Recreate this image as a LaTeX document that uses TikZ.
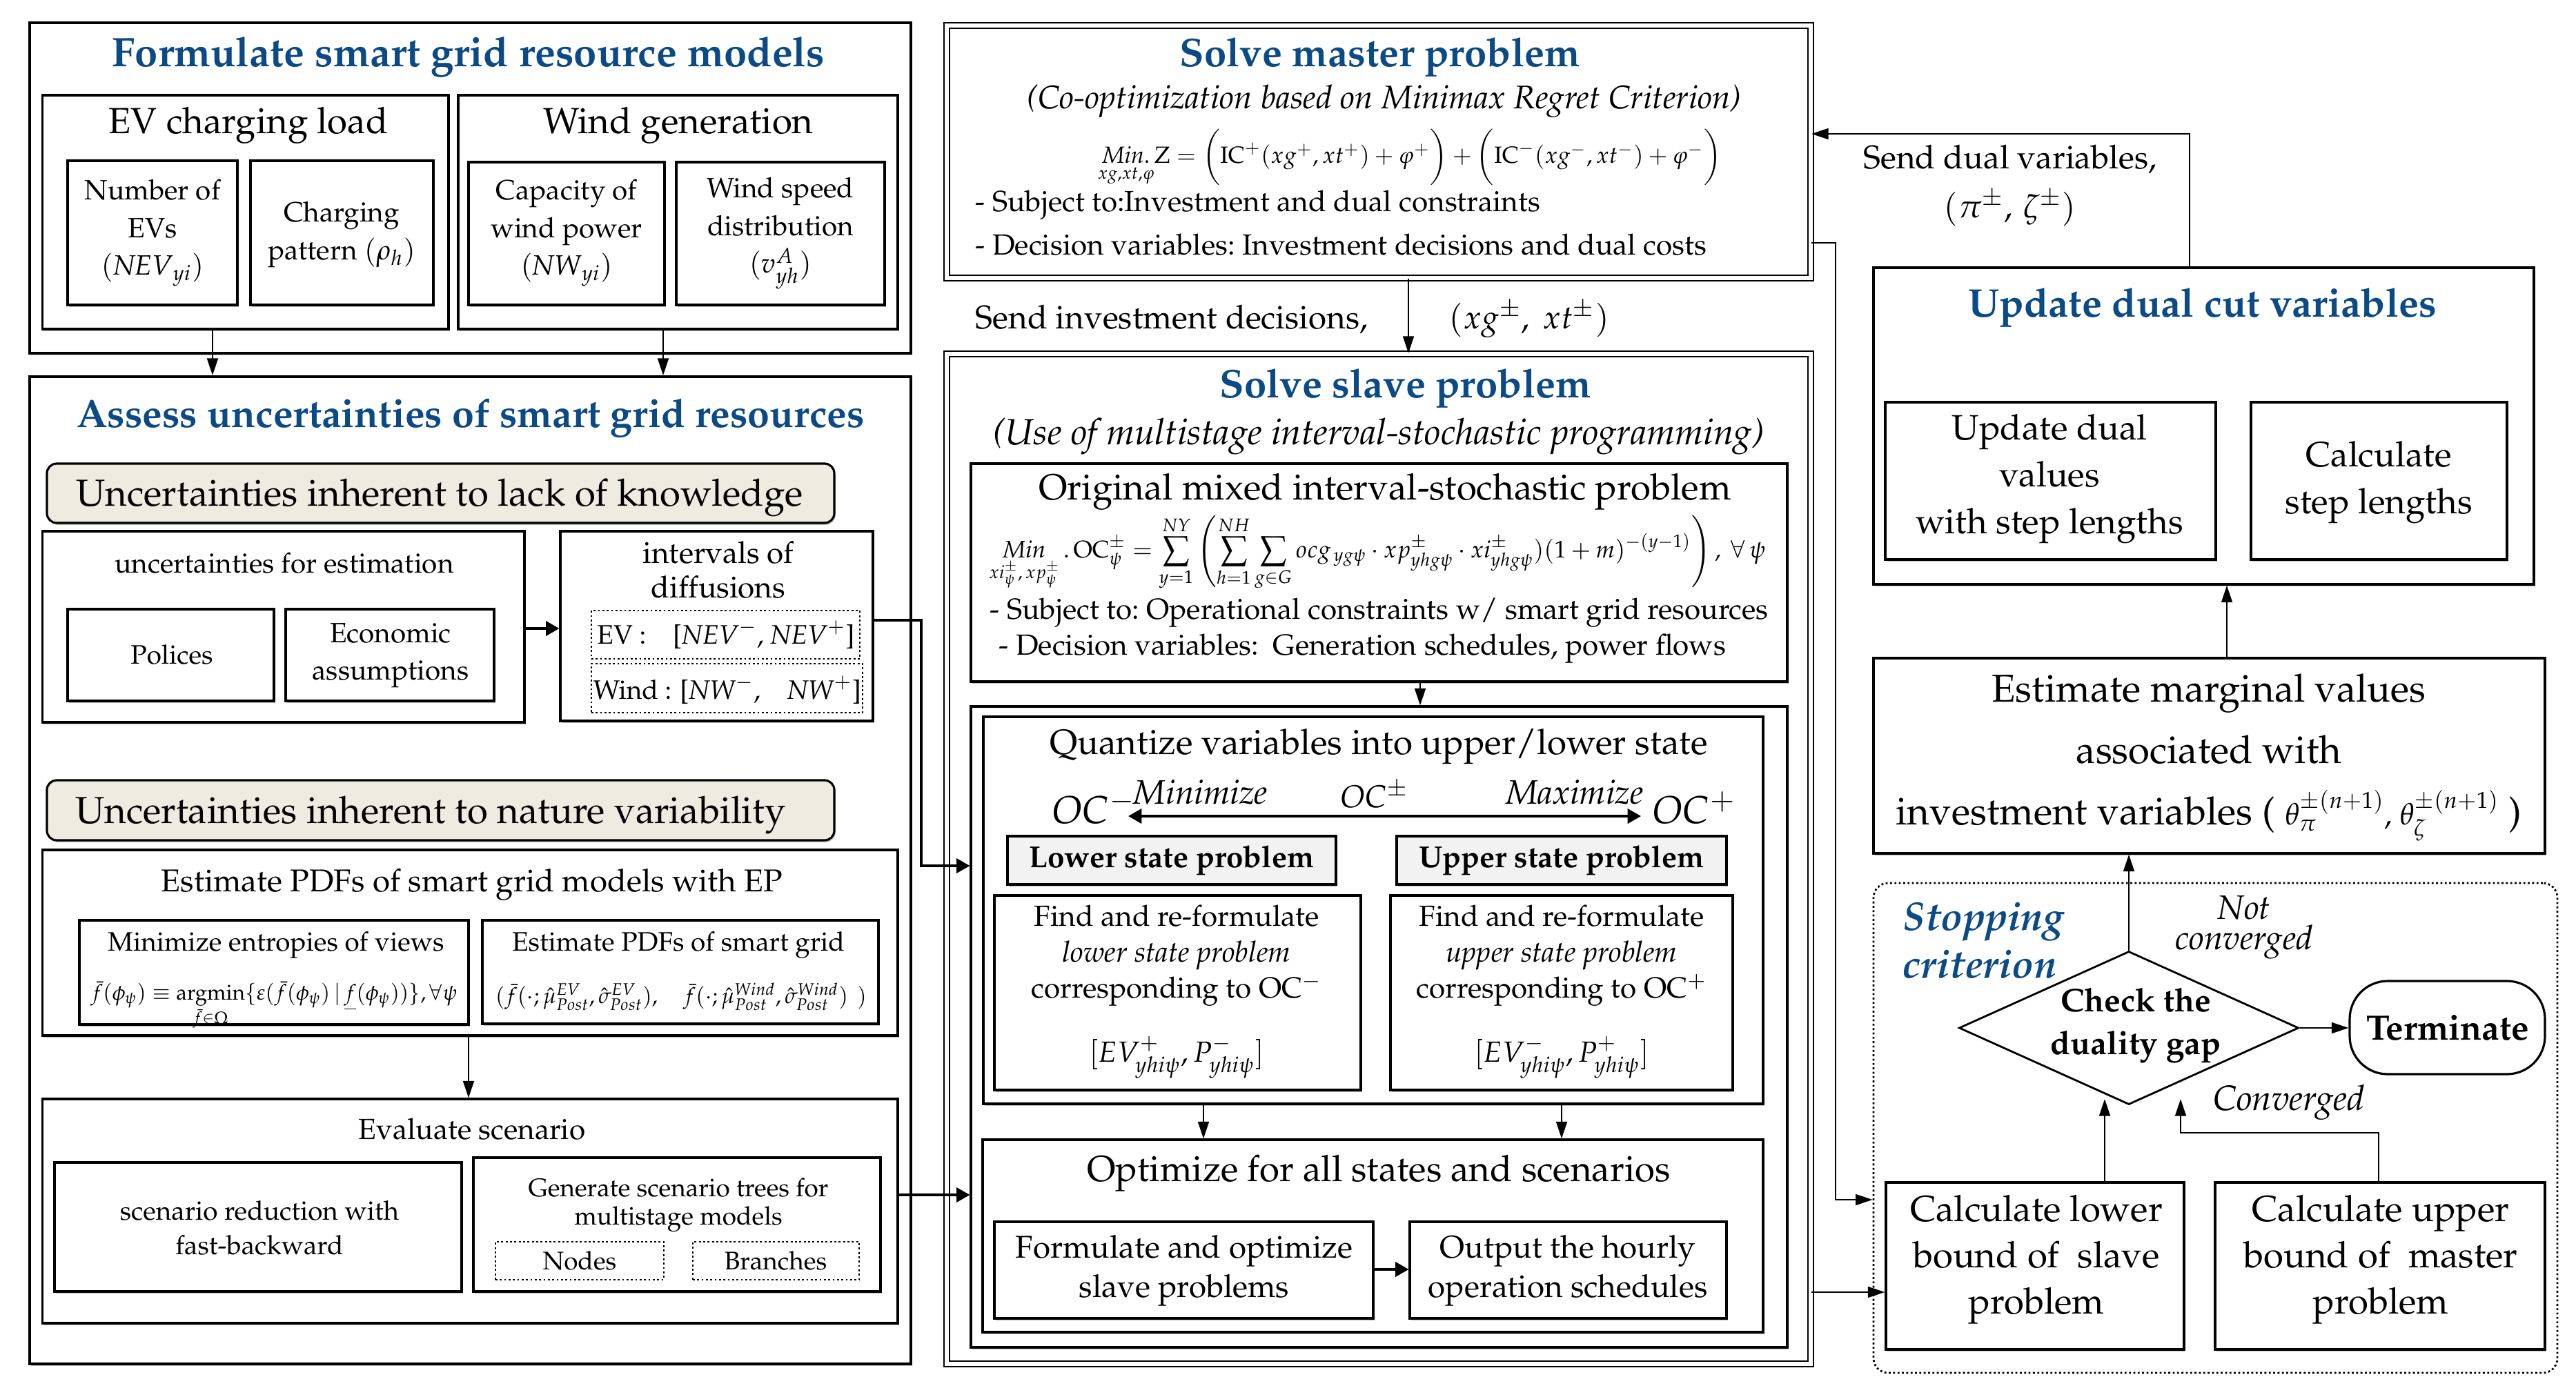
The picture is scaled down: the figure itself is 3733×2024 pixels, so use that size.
\documentclass[tikz,border=0pt]{standalone}
\usepackage[T1]{fontenc}
\usepackage{amsmath}
\usepackage{mathpazo}
\usetikzlibrary{arrows.meta,fit,shapes.geometric,calc,shadows}
\definecolor{tblue}{HTML}{0B4A85}
\definecolor{beige}{HTML}{EEECE1}
\definecolor{lgray}{HTML}{F2F2F2}
\newcommand{\fsz}[2]{\fontsize{#1}{#2}\selectfont}
\tikzset{
  x=0.01cm, y=-0.01cm,
  shd/.style={drop shadow={shadow xshift=0.5pt, shadow yshift=-0.8pt, fill=black!50, opacity=0.5}},
  bx/.style={draw, line width=0.9pt, inner sep=0pt, fill=white, shd},
  bbx/.style={draw, line width=1.1pt, inner sep=0pt, fill=white, shd},
  dbx/.style={draw, line width=0.6pt, double, double distance=1.6pt, inner sep=0pt},
  dotbx/.style={draw, densely dotted, line width=0.8pt, inner sep=0pt},
  tx/.style={inner sep=0pt, align=center},
  ttl/.style={tx, text=tblue},
  arr/.style={line width=0.7pt, -{Triangle[length=7pt,width=4.5pt]}},
  tarr/.style={line width=1.1pt, -{Triangle[length=5.5pt,width=6pt]}},
}
\begin{document}
\begin{tikzpicture}
\useasboundingbox (0,0) rectangle (3733,2024);

% ================= LEFT COLUMN =================
\node[bbx, fit={(43,33)(1320,512)}] (formB) {};
\node[bx, fit={(61.5,138)(650,477)}] (evB) {};
\node[bx, fit={(664,138)(1301,477)}] (wgB) {};
\node[bx, fit={(98,233)(344,442)}] (nevB) {};
\node[bx, fit={(363,233)(628,442)}] (chpB) {};
\node[bx, fit={(679,235)(963,442)}] (capB) {};
\node[bx, fit={(980,235)(1282,442)}] (wsdB) {};

\node[ttl, font=\fsz{17}{20}\bfseries] (formT) at (679,83) {Formulate smart grid resource models};
\node[tx, font=\fsz{15}{18}] (evT) at (360,182) {EV charging load};
\node[tx, font=\fsz{15}{18}] (wgT) at (983,182) {Wind generation};
\node[tx, font=\fsz{11.5}{15.5}] (nevT) at (221,338) {Number of\\EVs\\$(\mathit{NEV}_{yi})$};
\node[tx, font=\fsz{11.5}{15.5}] (chpT) at (495,340) {Charging\\pattern $(\rho_h)$};
\node[tx, font=\fsz{11.5}{15.5}] (capT) at (821,338) {Capacity of\\wind power\\$(\mathit{NW}_{yi})$};
\node[tx, font=\fsz{11.5}{15.5}] (wsdT) at (1131,338) {Wind speed\\distribution\\$(v^{A}_{yh})$};

\node[bbx, fit={(43,546)(1320,1977)}] (assB) {};
\node[ttl, font=\fsz{16.3}{19}\bfseries] (assT) at (682,606) {Assess uncertainties of smart grid resources};

\node[bx, fill=beige, rounded corners=4pt, fit={(68,672)(1209,758)}] (lk1B) {};
\node[tx, font=\fsz{15.5}{18}] (lk1T) at (637,721) {Uncertainties inherent to lack of knowledge};

\node[bx, fit={(61.5,770)(760,1047)}] (uestB) {};
\node[bx, fit={(98,883)(397,1016)}] (polB) {};
\node[bx, fit={(414,883)(716,1016)}] (ecoB) {};
\node[bx, fit={(812,770)(1265,1045)}] (intB) {};
\node[dotbx, fit={(857,885)(1246,955)}] (evdB) {};
\node[dotbx, fit={(857,962)(1250,1033)}] (wdB) {};
\node[tx, font=\fsz{11.5}{14}] (uestT) at (412,816) {uncertainties for estimation};
\node[tx, font=\fsz{11}{14}] (polT) at (249,949) {Polices};
\node[tx, font=\fsz{11.5}{15.5}] (ecoT) at (566,950) {Economic\\assumptions};
\node[tx, font=\fsz{12.5}{14}] (intT) at (1041,826) {intervals of\\diffusions};
\node[tx, font=\fsz{11}{13}] (evdT) at (1052,920) {EV :\quad [$\mathit{NEV}^{-}$, $\mathit{NEV}^{+}$]};
\node[tx, font=\fsz{11}{13}] (wdT) at (1054,1000) {Wind : [$\mathit{NW}^{-}$,\quad $\mathit{NW}^{+}$]};

\node[bx, fill=beige, rounded corners=4pt, fit={(68,1131)(1209,1218)}] (lk2B) {};
\node[tx, font=\fsz{15.5}{18}] (lk2T) at (624,1181) {Uncertainties inherent to nature variability};

\node[bx, fit={(61.5,1232)(1301,1501)}] (pdfB) {};
\node[bx, fit={(115,1334)(679,1485)}] (minB) {};
\node[bx, fit={(699,1334)(1273,1484)}] (estB) {};
\node[tx, font=\fsz{13}{15}] (pdfT) at (684,1282) {Estimate PDFs of smart grid models with EP};
\node[tx, font=\fsz{11}{13}] (minT) at (400,1370) {Minimize entropies of views};
\node[tx] (minF) at (397,1458) {\resizebox{151pt}{!}{$\bar{f}(\phi_{\psi})\equiv\underset{\bar{f}\in\Omega}{\operatorname{argmin}}\{\varepsilon(\bar{f}(\phi_{\psi})\,|\,\underline{f}(\phi_{\psi}))\},\forall\psi$}};
\node[tx, font=\fsz{11}{13}] (estT) at (983,1370) {Estimate PDFs of smart grid};
\node[tx] (estF) at (987,1445) {\resizebox{153pt}{!}{$(\bar{f}(\cdot;\hat{\mu}^{EV}_{Post},\hat{\sigma}^{EV}_{Post}),\quad\bar{f}(\cdot;\hat{\mu}^{Wind}_{Post},\hat{\sigma}^{Wind}_{Post})\ \,)$}};

\node[bx, fit={(61.5,1593)(1301,1918)}] (evlB) {};
\node[bx, fit={(79,1685)(669,1872)}] (srB) {};
\node[bx, fit={(686,1678)(1276,1872)}] (gsB) {};
\node[dotbx, fit={(718,1800)(962,1855)}] (ndB) {};
\node[dotbx, fit={(1004,1800)(1245,1855)}] (brB) {};
\node[tx, font=\fsz{12}{14}] (evlT) at (684,1637) {Evaluate scenario};
\node[tx, font=\fsz{11}{14.2}] (srT) at (376,1780) {scenario reduction with\\fast-backward};
\node[tx, font=\fsz{10.5}{11.5}] (gsT) at (983,1747) {Generate scenario trees for\\multistage models};
\node[tx, font=\fsz{10.5}{12}] (ndT) at (840,1828) {Nodes};
\node[tx, font=\fsz{10.5}{12}] (brT) at (1124,1828) {Branches};

% ================= MIDDLE COLUMN =================
\node[dbx, fit={(1372,37)(2624,403)}] (msB) {};
\node[ttl, font=\fsz{16.5}{19}\bfseries] (msT) at (2000,83) {Solve master problem};
\node[tx, font=\fsz{13.5}{16}\itshape] (msS) at (2006,147) {(Co-optimization based on Minimax Regret Criterion)};
\node[tx] (msE) at (2043,228) {\resizebox{257pt}{!}{$\underset{xg,xt,\varphi}{\mathit{Min}.}\mathrm{Z}=\biggl(\mathrm{IC}^{+}(xg^{+},xt^{+})+\varphi^{+}\biggr)+\biggl(\mathrm{IC}^{-}(xg^{-},xt^{-})+\varphi^{-}\biggr)$}};
\node[tx, anchor=west, font=\fsz{12}{14}] (msL1) at (1413,297) {- Subject to:Investment and dual constraints};
\node[tx, anchor=west, font=\fsz{12}{14}] (msL2) at (1413,355) {- Decision variables:\ Investment decisions and dual costs};

\node[tx, anchor=west, font=\fsz{13.5}{16}] (sendI) at (1413,463) {Send investment decisions,};
\node[tx, font=\fsz{13.5}{16}] (sendIv) at (2216,463) {$(xg^{\pm},\ xt^{\pm})$};

\node[dbx, fit={(1372,513)(2624,1977)}] (slB) {};
\node[ttl, font=\fsz{16.5}{19}\bfseries] (slT) at (2037,563) {Solve slave problem};
\node[tx, font=\fsz{15}{18}\itshape] (slS) at (1998,633) {(Use of multistage interval-stochastic programming)};
\node[bx, fit={(1407,672)(2590,988)}] (orB) {};
\node[tx, font=\fsz{15}{18}] (orT) at (2007,713) {Original mixed interval-stochastic problem};
\node[tx] (orE) at (1996,802) {\resizebox{320pt}{!}{$\displaystyle\underset{xi^{\pm}_{\psi},\,xp^{\pm}_{\psi}}{\mathit{Min}}\,.\,\mathrm{OC}^{\pm}_{\psi}=\sum_{y=1}^{NY}\left(\sum_{h=1}^{NH}\sum_{g\in G}ocg_{\,yg\psi}\cdot xp^{\pm}_{yhg\psi}\cdot xi^{\pm}_{yhg\psi})(1+m)^{-(y-1)}\right),\ \forall\,\psi$}};
\node[tx, anchor=west, font=\fsz{12}{14}] (orL1) at (1434,888) {- Subject to:\ Operational constraints w/ smart grid resources};
\node[tx, anchor=west, font=\fsz{12}{14}] (orL2) at (1447,940) {- Decision variables:\ \ Generation schedules, power flows};

\node[bx, fit={(1407,1024)(2590,1953)}] (qcB) {};
\node[bx, fit={(1425,1039)(2555,1600)}] (qB) {};
\node[tx, font=\fsz{14.5}{17}] (qT) at (1998,1082) {Quantize variables into upper/lower state};
\node[tx, font=\fsz{16}{18}] (ocm) at (1585,1171) {$OC^{-}$};
\node[tx, font=\fsz{14}{16}\itshape] (minL) at (1740,1148) {Minimize};
\node[tx, font=\fsz{13}{16}] (ocpm) at (1992,1152) {$OC^{\pm}$};
\node[tx, font=\fsz{14}{16}\itshape] (maxL) at (2282,1148) {Maximize};
\node[tx, font=\fsz{16}{18}] (ocp) at (2455,1171) {$OC^{+}$};
\coordinate (d1) at (1635,1183);
\coordinate (d2) at (2378,1183);
\node[bx, fill=lgray, fit={(1460,1212)(1936,1282)}] (lsB) {};
\node[bx, fill=lgray, fit={(2024,1212)(2502,1282)}] (usB) {};
\node[tx, font=\fsz{12.5}{15}\bfseries] (lsT) at (1698,1247) {Lower state problem};
\node[tx, font=\fsz{12.5}{15}\bfseries] (usT) at (2263,1247) {Upper state problem};
\node[bx, fit={(1441,1298)(1972,1580)}] (flB) {};
\node[bx, fit={(2015,1298)(2511,1580)}] (frB) {};
\node[tx, font=\fsz{12}{14.8}] (flT) at (1705,1385) {Find and re-formulate\\\textit{lower state problem}\\corresponding to OC$^{-}$};
\node[tx, font=\fsz{12}{14.8}] (frT) at (2263,1385) {Find and re-formulate\\\textit{upper state problem}\\corresponding to OC$^{+}$};
\node[tx, font=\fsz{12}{14}] (flE) at (1705,1533) {$[EV^{+}_{yhi\psi},P^{-}_{yhi\psi}]$};
\node[tx, font=\fsz{12}{14}] (frE) at (2263,1533) {$[EV^{-}_{yhi\psi},P^{+}_{yhi\psi}]$};

\node[bx, fit={(1424,1652)(2555,1931)}] (opB) {};
\node[bx, fit={(1441,1771)(1990,1911)}] (foB) {};
\node[bx, fit={(2043,1771)(2502,1911)}] (ouB) {};
\node[tx, font=\fsz{15}{18}] (opT) at (1998,1701) {Optimize for all states and scenarios};
\node[tx, font=\fsz{13}{16}] (foT) at (1716,1842) {Formulate and optimize\\slave problems};
\node[tx, font=\fsz{13}{16}] (ouT) at (2272,1842) {Output the hourly\\operation schedules};

% ================= RIGHT COLUMN =================
\node[tx, font=\fsz{13.5}{20}] (sendD) at (2913,269) {Send dual variables,\\$(\pi^{\pm},\,\zeta^{\pm})$};
\node[bx, fit={(2715,388)(3672,847)}] (udB) {};
\node[ttl, font=\fsz{16.5}{19}\bfseries] (udT) at (3192,446) {Update dual cut variables};
\node[bx, fit={(2732,583)(3211,811)}] (uvB) {};
\node[bx, fit={(3262,583)(3633,811)}] (csB) {};
\node[tx, font=\fsz{14.5}{19.3}] (uvT) at (2970,694) {Update dual\\values\\with step lengths};
\node[tx, font=\fsz{14.5}{19.3}] (csT) at (3447,699) {Calculate\\step lengths};

\node[bx, fit={(2715,954)(3688,1237)}] (emB) {};
\node[tx, font=\fsz{16}{25.3}] (emT) at (3201,1098) {Estimate marginal values\\associated with\\investment variables ( {\fsz{12.5}{14}$\theta^{\pm(n+1)}_{\pi}$, $\theta^{\pm(n+1)}_{\zeta}$} )};

\node[dotbx, rounded corners=6pt, fill=white, fit={(2715,1280)(3706,1990)}] (stB) {};
\node[tx, align=left, text=tblue, font=\fsz{16.5}{19.6}\bfseries\itshape] (stT) at (2874,1363) {Stopping\\criterion};
\node[draw, diamond, line width=0.8pt, fill=white, minimum width=4.92cm, minimum height=2.22cm, inner sep=0pt] (dia) at (3085,1490) {};
\node[tx, font=\fsz{13.5}{17.6}\bfseries] (diaT) at (3095,1486) {Check the\\duality gap};
\node[tx, font=\fsz{14}{12.5}\itshape] (ncT) at (3252,1344) {Not\\converged};
\node[draw, line width=0.9pt, rounded corners=0.55cm, fit={(3405,1422)(3688,1557)}, inner sep=0pt] (tmB) {};
\node[tx, font=\fsz{14.5}{17}\bfseries] (tmT) at (3547,1490) {Terminate};
\node[tx, font=\fsz{14.5}{17}\itshape] (cvT) at (3317,1598) {Converged};
\node[bx, fit={(2733,1714)(3165,1956)}] (clB) {};
\node[bx, fit={(3210,1714)(3688,1956)}] (cuB) {};
\node[tx, font=\fsz{15}{19}] (clT) at (2951,1826) {Calculate lower\\bound of\ \ slave\\problem};
\node[tx, font=\fsz{15}{19}] (cuT) at (3450,1826) {Calculate upper\\bound of\ \ master\\problem};

% ================= CONNECTORS =================
\coordinate (a1) at (308,0);
\coordinate (a2) at (961,0);
\draw[arr] (evB.south -| a1) -- (assB.north -| a1);
\draw[arr] (wgB.south -| a2) -- (assB.north -| a2);
\coordinate (a3) at (0,911);
\draw[tarr] (uestB.east |- a3) -- (intB.west |- a3);
\coordinate (a4) at (679,0);
\draw[arr] (pdfB.south -| a4) -- (evlB.north -| a4);

\coordinate (a5) at (2041,0);
\draw[arr] (msB.south -| a5) -- (slB.north -| a5);
\coordinate (a6) at (2058,0);
\draw[arr] (orB.south -| a6) -- (qcB.north -| a6);
\draw[line width=1.1pt, {Triangle[length=5.5pt,width=6pt]}-{Triangle[length=5.5pt,width=6pt]}] (d1) -- (d2);
\coordinate (a7) at (1744,0);
\coordinate (a8) at (2263,0);
\draw[arr] (qB.south -| a7) -- (opB.north -| a7);
\draw[arr] (qB.south -| a8) -- (opB.north -| a8);
\coordinate (a9) at (0,1840);
\draw[tarr] (foB.east |- a9) -- (ouB.west |- a9);

\coordinate (b1) at (1335,899);
\coordinate (b2) at (1335,1255);
\draw[line width=0.9pt, -{Triangle[length=5.5pt,width=6pt]}] (intB.east |- b1) -- (b1) -- (b2) -- (qcB.west |- b2);
\coordinate (b3) at (0,1732);
\draw[line width=0.9pt, -{Triangle[length=5.5pt,width=6pt]}] (evlB.east |- b3) -- (qcB.west |- b3);

\coordinate (c1) at (2660,352);
\coordinate (c2) at (2660,1739);
\draw[arr] (msB.east |- c1) -- (c1) -- (c2) -- (stB.west |- c2);
\coordinate (c3) at (0,1873);
\draw[arr] (slB.east |- c3) -- (clB.west |- c3);
\coordinate (c4) at (3173,194);
\draw[arr] (udB.north -| c4) -- (c4) -- (msB.east |- c4);
\coordinate (c5) at (3227,0);
\draw[arr] (emB.north -| c5) -- (udB.south -| c5);
\draw[arr] (dia.north) -- (emB.south -| dia.north);
\draw[arr] (dia.east) -- (tmB.west |- dia.east);
\coordinate (c6) at (3050,1593);
\draw[arr] (clB.north -| c6) -- (c6);
\coordinate (c7) at (3447,1642);
\coordinate (c8) at (3160,1642);
\coordinate (c9) at (3160,1593);
\draw[arr] (cuB.north -| c7) -- (c7) -- (c8) -- (c9);
\end{tikzpicture}
\end{document}
